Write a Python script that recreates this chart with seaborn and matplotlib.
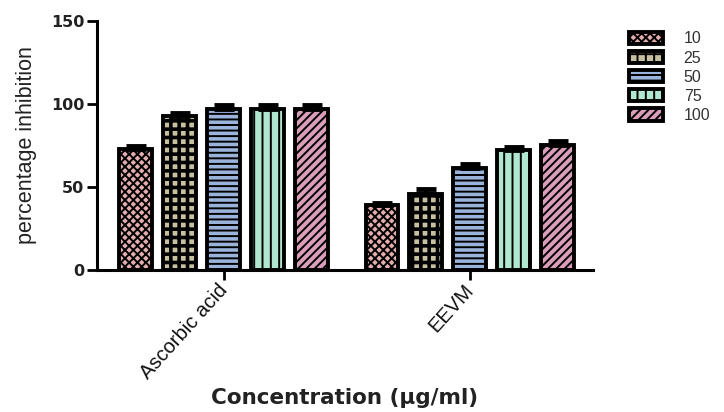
import matplotlib
matplotlib.use("Agg")
import matplotlib.pyplot as plt
import seaborn as sns
import pandas as pd

# Antioxidant activity: percentage inhibition by sample and concentration
groups = ["Ascorbic acid", "EEVM"]
concentrations = ["10", "25", "50", "75", "100"]
ascorbic_mean = [73, 93, 97, 97, 97]
ascorbic_sem = [1.5, 1.5, 2.5, 2.5, 2.5]
eevm_mean = [39, 46, 61.5, 72.5, 75.5]
eevm_sem = [1.5, 2.5, 2.5, 1.5, 2.5]

palette = ["#eca4a4", "#cdc49a", "#8fb0e6", "#a6f0d2", "#e494ba"]
hatches = ["xxxx", "++", "---", "||", "////"]

rows = []
for g, means in zip(groups, [ascorbic_mean, eevm_mean]):
    for c, m in zip(concentrations, means):
        rows.append({"group": g, "conc": c, "value": m})
df = pd.DataFrame(rows)
sems = {"Ascorbic acid": ascorbic_sem, "EEVM": eevm_sem}

sns.set_style("ticks")
plt.rcParams["font.family"] = ["Liberation Sans", "DejaVu Sans"]
plt.rcParams["hatch.linewidth"] = 1.4
plt.rcParams["hatch.color"] = "black"
for key in ["text.color", "axes.labelcolor", "xtick.color", "ytick.color"]:
    plt.rcParams[key] = "black"

fig = plt.figure(figsize=(7.24, 4.12), dpi=100)
ax = fig.add_axes([97 / 724, 1 - 270 / 412, (593 - 97) / 724, (270 - 21) / 412])

sns.barplot(data=df, x="group", y="value", hue="conc", hue_order=concentrations,
            order=groups, palette=palette, width=0.894, gap=0.25,
            edgecolor="black", linewidth=2.8, errorbar=None, legend=False, ax=ax)

bar_containers = list(ax.containers)

# Hatching per concentration and upward-only error bars from each bar's centre
for i, cont in enumerate(bar_containers):
    xs, ys, errs = [], [], []
    for j, patch in enumerate(cont.patches):
        patch.set_hatch(hatches[i])
        if i == 1 and hasattr(patch, "set_hatch_linewidth"):
            patch.set_hatch_linewidth(2.6)
        xs.append(patch.get_x() + patch.get_width() / 2)
        ys.append(patch.get_height())
        errs.append(sems[groups[j]][i])
    ax.errorbar(xs, ys, yerr=[[0] * len(errs), errs], fmt="none", ecolor="black",
                elinewidth=3, capsize=7, capthick=3.5, zorder=5)

ax.set_ylim(0, 150)
ax.set_xlim(-0.516, 1.5)
ax.set_yticks([0, 50, 100, 150])
ax.set_yticklabels(["0", "50", "100", "150"], family="DejaVu Sans",
                   fontweight="bold", fontsize=11.5, color="#222222")
ax.set_ylabel("percentage inhibition", fontsize=15.5, labelpad=10, color="#222222")
ax.set_xlabel("Concentration (µg/ml)", fontsize=15.5, fontweight="bold",
              family="DejaVu Sans", labelpad=4, color="#222222")
ax.set_xticks([0, 1])
ax.set_xticklabels(groups, rotation=48, ha="right", va="center",
                   rotation_mode="anchor", fontsize=14.5, color="#111111")
ax.tick_params(axis="y", width=2, length=7, color="black", pad=2)
ax.tick_params(axis="x", width=2, length=7, color="black", pad=5)
for side in ["left", "bottom"]:
    ax.spines[side].set_linewidth(2.2)
    ax.spines[side].set_color("black")
sns.despine(ax=ax)

handles = [c.patches[0] for c in bar_containers]
fig.legend(handles, concentrations, loc="upper left",
           bbox_to_anchor=(623 / 724, 1 - 25 / 412), frameon=False,
           fontsize=11.5, handlelength=2.1, handleheight=0.8,
           labelspacing=0.26, handletextpad=1.3, borderaxespad=0,
           labelcolor="#333333")

fig.savefig("out.png", dpi=100)
